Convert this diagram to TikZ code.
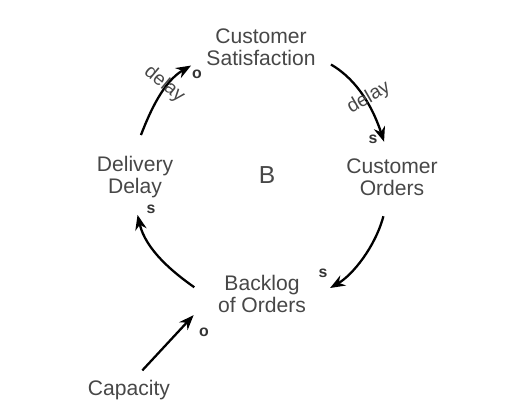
\documentclass[tikz,border=0pt]{standalone}
\usepackage{fontspec}
\setmainfont{Liberation Sans}
\usetikzlibrary{arrows.meta}

\begin{document}
\begin{tikzpicture}[line width=0.8pt,>=Stealth,
  var/.style={align=center,text=black!72,inner sep=1pt,
    font=\fontsize{12}{12.5}\selectfont},
  link/.style={->,line width=1.3pt,>={Stealth[length=3mm,width=2.3mm]}},
  pol/.style={font=\fontsize{9}{9}\selectfont\bfseries,text=black!80,inner sep=0pt},
  dly/.style={font=\fontsize{11}{11}\selectfont,text=black!72,inner sep=0pt}]
\useasboundingbox (0,0) rectangle (10.22,8.18);
% ---------- variables ----------
\node[var] (sat) at (5.22,7.24) {Customer\\Satisfaction};
\node[var] (ord) at (7.84,4.64) {Customer\\Orders};
\node[var] (del) at (2.70,4.64) {Delivery\\Delay};
\node[var] (back) at (5.24,2.30) {Backlog\\of Orders};
\node[var] (cap) at (2.58,0.38) {Capacity};
\node[var,font=\fontsize{14}{14}\selectfont] (loop) at (5.34,4.68) {B};
% ---------- links ----------
\draw[link,shorten <=3mm,shorten >=3mm] (sat.-10) to[out=-30,in=108]
  node[dly,pos=0.52,rotate=30,xshift=1mm] (d1) {delay} (ord.99);
\draw[link,shorten <=3.8mm,shorten >=5mm] (ord.-100) to[out=-105,in=30] (back.-8);
\draw[link,shorten <=5.2mm,shorten >=3mm] (back.190) to[out=145,in=-77] (del.-92);
\draw[link,shorten <=4mm,shorten >=3mm] (del.93) to[out=69,in=210]
  node[dly,pos=0.62,rotate=-40,xshift=-1mm] (d2) {delay} (sat.191);
\draw[link,shorten <=2mm] (cap.62) -- ([xshift=-4.4mm]back.south west);
% ---------- polarities ----------
\node[pol] (s1) at (7.46,5.40) {s};
\node[pol] (s2) at (6.46,2.72) {s};
\node[pol] (s3) at (3.02,4.00) {s};
\node[pol] (o1) at (3.94,6.70) {o};
\node[pol] (o2) at (4.08,1.54) {o};
\end{tikzpicture}
\end{document}
